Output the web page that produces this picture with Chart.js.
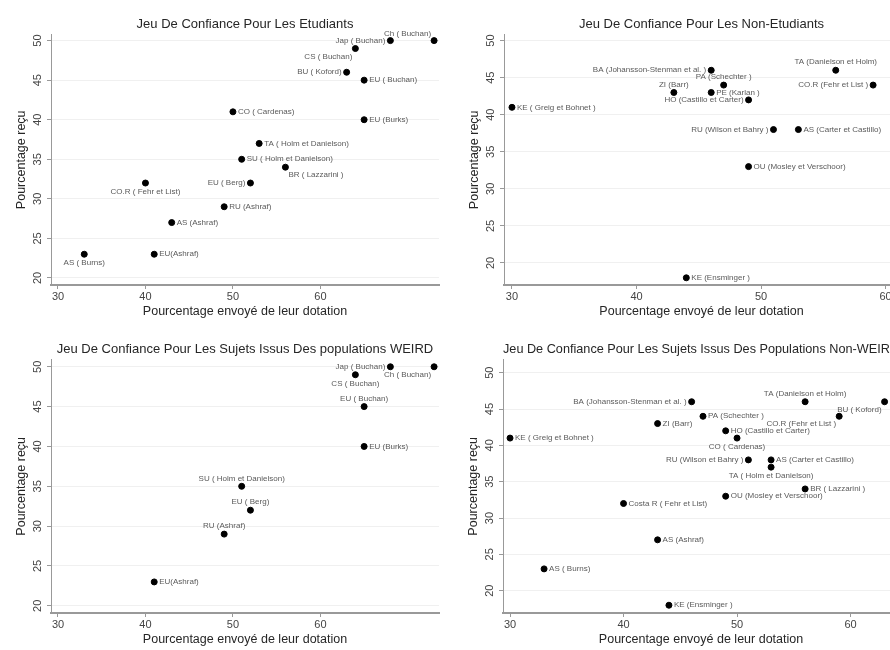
<!DOCTYPE html>
<html>
<head>
<meta charset="utf-8">
<script src="https://cdn.jsdelivr.net/npm/chart.js@4"></script>
<style>
    body { margin: 0; width: 890px; height: 650px; overflow: hidden; background: #fff; position: relative; }
    canvas { position: absolute; }
</style>
</head>
<body>
<canvas id="etudiants" width="445" height="322" style="left:0;top:0"></canvas>
<canvas id="nonEtudiants" width="460" height="322" style="left:445px;top:0"></canvas>
<canvas id="weird" width="445" height="325" style="left:0;top:325px"></canvas>
<canvas id="nonWeird" width="460" height="325" style="left:445px;top:325px"></canvas>
<script>
const xTicks = [30, 40, 50, 60];
const yTicks = [20, 25, 30, 35, 40, 45, 50];

// Etudiants
const etuLabels = ['Ch ( Buchan)', 'Jap ( Buchan)', 'CS ( Buchan)', 'BU ( Koford)', 'EU ( Buchan)', 'CO ( Cardenas)', 'EU (Burks)',
    'TA ( Holm et Danielson)', 'SU ( Holm et Danielson)', 'BR ( Lazzarini )', 'CO.R ( Fehr et List)', 'EU ( Berg)',
    'RU (Ashraf)', 'AS (Ashraf)', 'AS ( Burns)', 'EU(Ashraf)'];
const etuX = [73, 68, 64, 63, 65, 50, 65, 53, 51, 56, 40, 52, 49, 43, 33, 41];
const etuY = [50, 50, 49, 46, 45, 41, 40, 37, 35, 34, 32, 32, 29, 27, 23, 23];
const etuPos = ['tl', 'l', 'bl', 'l', 'r', 'r', 'r', 'r', 'r', 'br', 'b', 'l', 'r', 'r', 'b', 'r'];

// Non-Etudiants
const nonEtuLabels = ['BA (Johansson-Stenman et al. )', 'PA (Schechter )', 'ZI (Barr)', 'PE (Karlan )', 'HO (Castillo et Carter)',
    'KE ( Greig et Bohnet )', 'TA (Danielson et Holm)', 'CO.R (Fehr et List )', 'RU (Wilson et Bahry )',
    'AS (Carter et Castillo)', 'OU (Mosley et Verschoor)', 'KE (Ensminger )'];
const nonEtuX = [46, 47, 43, 46, 49, 30, 56, 59, 51, 53, 49, 44];
const nonEtuY = [46, 44, 43, 43, 42, 41, 46, 44, 38, 38, 33, 18];
const nonEtuPos = ['l', 't', 't', 'r', 'l', 'r', 't', 'l', 'l', 'r', 'r', 'r'];

// WEIRD
const weirdLabels = ['Jap ( Buchan)', 'Ch ( Buchan)', 'CS ( Buchan)', 'EU ( Buchan)', 'EU (Burks)',
    'SU ( Holm et Danielson)', 'EU ( Berg)', 'RU (Ashraf)', 'EU(Ashraf)'];
const weirdX = [68, 73, 64, 65, 65, 51, 52, 49, 41];
const weirdY = [50, 50, 49, 45, 40, 35, 32, 29, 23];
const weirdPos = ['l', 'bl', 'b', 't', 'r', 't', 't', 't', 'r'];

// Non-WEIRD
const nonWeirdLabels = ['KE ( Greig et Bohnet )', 'BA (Johansson-Stenman et al. )', 'TA (Danielson et Holm)', 'BU ( Koford)',
    'PA (Schechter )', 'ZI (Barr)', 'CO.R (Fehr et List )', 'HO (Castillo et Carter)', 'CO ( Cardenas)',
    'RU (Wilson et Bahry )', 'AS (Carter et Castillo)', 'TA ( Holm et Danielson)', 'BR ( Lazzarini )',
    'OU (Mosley et Verschoor)', 'Costa R ( Fehr et List)', 'AS (Ashraf)', 'AS ( Burns)', 'KE (Ensminger )'];
const nonWeirdX = [30, 46, 56, 63, 47, 43, 59, 49, 50, 51, 53, 53, 56, 49, 40, 43, 33, 44];
const nonWeirdY = [41, 46, 46, 46, 44, 43, 44, 42, 41, 38, 38, 37, 34, 33, 32, 27, 23, 18];
const nonWeirdPos = ['r', 'l', 't', 'bl', 'r', 'r', 'bl', 'r', 'b', 'l', 'r', 'b', 'r', 'r', 'r', 'r', 'r', 'r'];

const FONT = '"Liberation Sans", Arial, sans-serif';

const pointLabels = {
    id: 'pointLabels',
    afterDatasetsDraw(chart) {
        const ctx = chart.ctx;
        const ds = chart.data.datasets[0];
        const meta = chart.getDatasetMeta(0);
        ctx.save();
        ctx.font = '8px ' + FONT;
        ctx.fillStyle = '#5a5a5a';
        meta.data.forEach((pt, i) => {
            const pos = ds.labelPos[i];
            const text = ds.labelText[i];
            let x = pt.x, y = pt.y;
            ctx.textBaseline = 'middle';
            if (pos === 'r') { ctx.textAlign = 'left'; x += 5; }
            else if (pos === 'l') { ctx.textAlign = 'right'; x -= 5; }
            else if (pos === 't') { ctx.textAlign = 'center'; y -= 8; }
            else if (pos === 'b') { ctx.textAlign = 'center'; y += 9; }
            else if (pos === 'tl') { ctx.textAlign = 'right'; x -= 3; y -= 7; }
            else if (pos === 'bl') { ctx.textAlign = 'right'; x -= 3; y += 8; }
            else if (pos === 'br') { ctx.textAlign = 'left'; x += 3; y += 8; }
            ctx.fillText(text, x, y);
        });
        ctx.restore();
    }
};

function makePanel(id, title, xs, ys, labels, pos, xRange, yRange, leftWidth) {
    const points = xs.map((x, i) => ({ x: x, y: ys[i] }));
    return new Chart(document.getElementById(id), {
        type: 'scatter',
        data: {
            datasets: [{
                data: points,
                labelText: labels,
                labelPos: pos,
                backgroundColor: '#000',
                borderColor: '#000',
                pointRadius: 3,
                pointHoverRadius: 3,
            }]
        },
        options: {
            responsive: false,
            animation: false,
            layout: { padding: { left: 0, right: 6, top: 0, bottom: 0 } },
            plugins: {
                legend: { display: false },
                tooltip: { enabled: false },
                title: {
                    display: true,
                    text: title,
                    fullSize: false,
                    color: '#262626',
                    font: { family: FONT, size: 13, weight: 'normal' },
                    padding: { top: 17, bottom: 2 }
                }
            },
            scales: {
                x: {
                    type: 'linear',
                    min: xRange[0],
                    max: xRange[1],
                    afterBuildTicks: axis => { axis.ticks = xTicks.map(v => ({ value: v })); },
                    afterFit: axis => { axis.height = 37; },
                    border: { color: '#999', width: 2 },
                    grid: { drawOnChartArea: false, color: '#999', tickLength: 4 },
                    ticks: { color: '#444', font: { family: FONT, size: 11 }, padding: 1, maxRotation: 0 },
                    title: {
                        display: true,
                        text: 'Pourcentage envoyé de leur dotation',
                        color: '#262626',
                        font: { family: FONT, size: 12.5 },
                        padding: { top: 0, bottom: 3 }
                    }
                },
                y: {
                    type: 'linear',
                    min: yRange[0],
                    max: yRange[1],
                    afterBuildTicks: axis => { axis.ticks = yTicks.map(v => ({ value: v })); },
                    afterFit: axis => { axis.width = leftWidth; },
                    border: { color: '#999', width: 1 },
                    grid: { color: '#f0f0f0', tickColor: '#999', tickLength: 4 },
                    ticks: { color: '#444', font: { family: FONT, size: 11 }, padding: 3, minRotation: 90, maxRotation: 90, crossAlign: 'center' },
                    title: {
                        display: true,
                        text: 'Pourcentage reçu',
                        color: '#262626',
                        font: { family: FONT, size: 12.5 },
                        padding: { top: leftWidth - 37, bottom: 0 }
                    }
                }
            }
        },
        plugins: [pointLabels]
    });
}

makePanel('etudiants', 'Jeu De Confiance Pour Les Etudiants', etuX, etuY, etuLabels, etuPos, [29.2, 73.56], [19.11, 50.76], 51);
makePanel('nonEtudiants', 'Jeu De Confiance Pour Les Non-Etudiants', nonEtuX, nonEtuY, nonEtuLabels, nonEtuPos, [29.36, 61.08], [17.03, 50.81], 59);
makePanel('weird', 'Jeu De Confiance Pour Les Sujets Issus Des populations WEIRD', weirdX, weirdY, weirdLabels, weirdPos, [29.2, 73.56], [19.1, 50.9], 51);
makePanel('nonWeird', 'Jeu De Confiance Pour Les Sujets Issus Des Populations Non-WEIRD', nonWeirdX, nonWeirdY, nonWeirdLabels, nonWeirdPos, [29.38, 64.27], [16.93, 51.8], 58);
</script>
</body>
</html>
